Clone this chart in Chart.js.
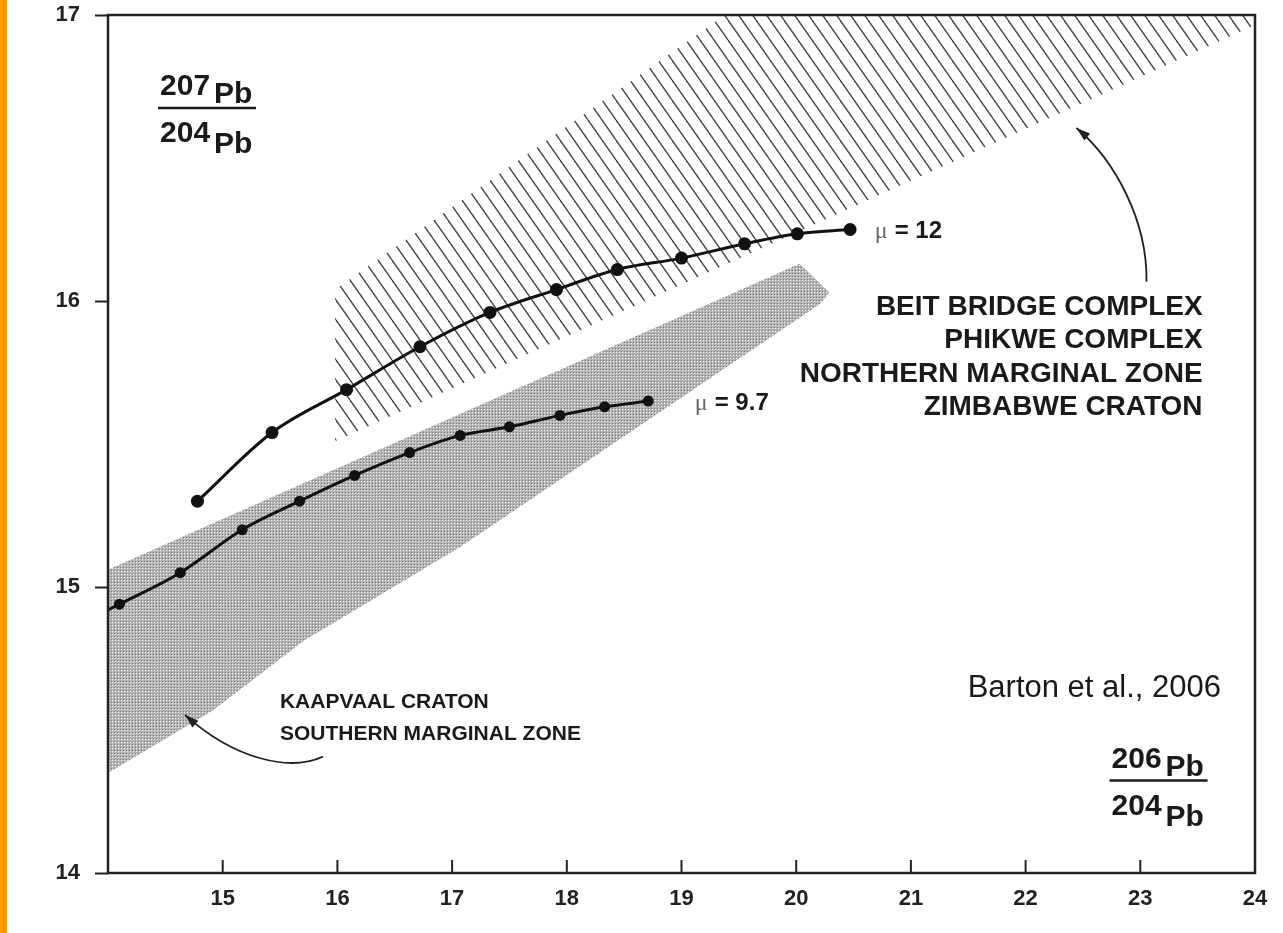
<!DOCTYPE html>
<html lang="en">
<head>
<meta charset="UTF-8" />
<title>Pb growth curves</title>
<script src="https://cdn.jsdelivr.net/npm/chart.js"></script>
<style>
  html, body { margin: 0; padding: 0; background: #fff; }
  #wrap { position: relative; width: 1283px; height: 933px; }
  /* orange side strip */
  #strip { position: absolute; left: 0; top: 0; width: 7px; height: 933px; background: #ff9900; }
  #chart { position: absolute; left: 0; top: 0; }
</style>
</head>
<body>
<div id="wrap">
  <div id="strip"></div>
  <canvas id="chart" width="1283" height="933"></canvas>
</div>
<script>
// growth curve mu = 12
const mu12X = [14.78, 15.43, 16.08, 16.72, 17.33, 17.91, 18.44, 19.00, 19.55, 20.01, 20.47];
const mu12Y = [15.30, 15.54, 15.69, 15.84, 15.96, 16.04, 16.11, 16.15, 16.20, 16.235, 16.25];
// growth curve mu = 9.7 (first value is where the line leaves the axis)
const mu97X = [14.00, 14.10, 14.63, 15.17, 15.67, 16.15, 16.63, 17.07, 17.50, 17.94, 18.33, 18.71];
const mu97Y = [14.92, 14.94, 15.05, 15.20, 15.30, 15.39, 15.47, 15.53, 15.56, 15.60, 15.63, 15.65];
// hatched field (Beit Bridge ... Zimbabwe craton)
const northTopX = [15.98, 19.38, 24.0];
const northTopY = [16.04, 17.0, 17.0];
const northBotX = [15.98, 24.0];
const northBotY = [15.51, 16.965];
// stippled field (Kaapvaal craton)
const southTopX = [14.0, 20.03, 20.29];
const southTopY = [15.06, 16.13, 16.03];
const southBotX = [14.0, 14.92, 15.70, 17.07, 20.21, 20.29];
const southBotY = [14.35, 14.57, 14.81, 15.14, 15.99, 16.03];
// ticks
const xTickValues = [15, 16, 17, 18, 19, 20, 21, 22, 23, 24];
const yTickValues = [14, 15, 16, 17];

const pts = (xs, ys) => xs.map((v, i) => ({ x: v, y: ys[i] }));

const canvas = document.getElementById("chart");
const ctx = canvas.getContext("2d");

// diagonal hatching
function hatchPattern() {
  const c = document.createElement("canvas");
  const w = 14, h = 20;
  c.width = w; c.height = h;
  const g = c.getContext("2d");
  g.strokeStyle = "#454545";
  g.lineWidth = 1.4;
  [-w, 0, w].forEach(function (off) {
    g.beginPath(); g.moveTo(off, 0); g.lineTo(off + w, h); g.stroke();
  });
  return ctx.createPattern(c, "repeat");
}
// fine halftone stipple
function dotPattern() {
  const c = document.createElement("canvas");
  c.width = 3; c.height = 3;
  const g = c.getContext("2d");
  g.fillStyle = "#b4b4b4"; g.fillRect(0, 0, 3, 3);
  g.fillStyle = "#f4f4f4"; g.fillRect(1, 1, 1, 1);
  g.fillStyle = "#7a7a7a"; g.fillRect(0, 0, 1, 1);
  return ctx.createPattern(c, "repeat");
}

const SANS = "'Liberation Sans', Arial, sans-serif";

// text, arrows, frame
const decor = {
  id: "decor",
  afterDraw(chart) {
    const c = chart.ctx, a = chart.chartArea;
    const sx = chart.scales.x, sy = chart.scales.y;
    const P = (vx, vy) => [sx.getPixelForValue(vx), sy.getPixelForValue(vy)];
    c.save();

    // frame
    c.strokeStyle = "#222";
    c.lineWidth = 2.5;
    c.strokeRect(a.left, a.top, a.right - a.left, a.bottom - a.top);

    // inner x tick marks
    c.lineWidth = 2;
    xTickValues.slice(0, -1).forEach(function (v) {
      const p = sx.getPixelForValue(v);
      c.beginPath(); c.moveTo(p, a.bottom); c.lineTo(p, a.bottom - 13); c.stroke();
    });

    function text(str, vx, vy, font, align) {
      const p = P(vx, vy);
      c.font = font;
      c.textAlign = align || "left";
      c.textBaseline = "alphabetic";
      c.fillStyle = "#1a1a1a";
      c.fillText(str, p[0], p[1]);
    }

    function mu(value, vx, vy) {
      const p = P(vx, vy);
      c.textAlign = "left";
      c.textBaseline = "alphabetic";
      c.font = "24px 'Liberation Serif', serif";
      c.fillStyle = "#666";
      c.fillText("\u03bc", p[0], p[1]);
      c.font = "bold 24px " + SANS;
      c.fillStyle = "#1a1a1a";
      c.fillText("= " + value, p[0] + 20, p[1]);
    }

    function frac(num, den, vx, vy) {
      const p = P(vx, vy);
      c.font = "bold 30px " + SANS;
      c.textAlign = "left";
      c.textBaseline = "alphabetic";
      c.fillStyle = "#1a1a1a";
      const dw = c.measureText(num).width;
      c.fillText(num, p[0] + 2, p[1] - 13);
      c.fillText("Pb", p[0] + 6 + dw, p[1] - 5);
      c.fillText(den, p[0] + 2, p[1] + 34);
      c.fillText("Pb", p[0] + 6 + dw, p[1] + 45);
      c.lineWidth = 2.5;
      c.strokeStyle = "#1a1a1a";
      c.beginPath(); c.moveTo(p[0], p[1]); c.lineTo(p[0] + 98, p[1]); c.stroke();
    }

    function arrow(list) {
      const q = list.map(function (v) { return P(v[0], v[1]); });
      c.strokeStyle = "#222";
      c.fillStyle = "#222";
      c.lineWidth = 1.8;
      c.beginPath();
      c.moveTo(q[0][0], q[0][1]);
      c.bezierCurveTo(q[1][0], q[1][1], q[2][0], q[2][1], q[3][0], q[3][1]);
      c.stroke();
      const ang = Math.atan2(q[3][1] - q[2][1], q[3][0] - q[2][0]);
      const L = 14, W = 4.5;
      c.beginPath();
      c.moveTo(q[3][0], q[3][1]);
      c.lineTo(q[3][0] - L * Math.cos(ang) + W * Math.sin(ang), q[3][1] - L * Math.sin(ang) - W * Math.cos(ang));
      c.lineTo(q[3][0] - L * Math.cos(ang) - W * Math.sin(ang), q[3][1] - L * Math.sin(ang) + W * Math.cos(ang));
      c.closePath();
      c.fill();
    }

    frac("207", "204", 14.436, 16.675);
    frac("206", "204", 22.732, 14.323);

    mu("12", 20.684, 16.221);
    mu("9.7", 19.115, 15.619);

    const bold28 = "bold 28px " + SANS;
    text("BEIT BRIDGE COMPLEX", 23.543, 15.951, bold28, "right");
    text("PHIKWE COMPLEX", 23.543, 15.836, bold28, "right");
    text("NORTHERN MARGINAL ZONE", 23.543, 15.717, bold28, "right");
    text("ZIMBABWE CRATON", 23.543, 15.602, bold28, "right");

    const bold21 = "bold 21px " + SANS;
    text("KAAPVAAL CRATON", 15.499, 14.578, bold21, "left");
    text("SOUTHERN MARGINAL ZONE", 15.499, 14.466, bold21, "left");

    text("Barton et al., 2006", 21.495, 14.617, "31px " + SANS, "left");

    arrow([[23.054, 16.067], [23.063, 16.283], [22.775, 16.493], [22.444, 16.605]]);
    arrow([[15.874, 14.407], [15.586, 14.354], [15.107, 14.396], [14.671, 14.553]]);

    c.restore();
  }
};

const hatch = hatchPattern();
const dots = dotPattern();
const clear = "rgba(0,0,0,0)";

new Chart(ctx, {
  type: "scatter",
  data: {
    datasets: [
      {
        label: "mu = 12",
        data: pts(mu12X, mu12Y),
        showLine: true,
        borderColor: "#111",
        borderWidth: 3,
        pointRadius: 6.5,
        pointBackgroundColor: "#111",
        pointBorderWidth: 0,
        cubicInterpolationMode: "monotone",
        tension: 0.4,
        order: 0,
      },
      {
        label: "mu = 9.7",
        data: pts(mu97X, mu97Y),
        showLine: true,
        borderColor: "#111",
        borderWidth: 3,
        pointRadius: mu97X.map(function (v, i) { return i === 0 ? 0 : 5.5; }),
        pointBackgroundColor: "#111",
        pointBorderWidth: 0,
        cubicInterpolationMode: "monotone",
        tension: 0.4,
        order: 0,
      },
      {
        label: "north top",
        data: pts(northTopX, northTopY),
        showLine: true,
        borderColor: clear,
        pointRadius: 0,
        backgroundColor: hatch,
        fill: "+1",
        order: 1,
      },
      {
        label: "north bottom",
        data: pts(northBotX, northBotY),
        showLine: true,
        borderColor: clear,
        pointRadius: 0,
        fill: false,
        order: 1,
      },
      {
        label: "south top",
        data: pts(southTopX, southTopY),
        showLine: true,
        borderColor: clear,
        pointRadius: 0,
        backgroundColor: dots,
        fill: "+1",
        order: 1,
      },
      {
        label: "south bottom",
        data: pts(southBotX, southBotY),
        showLine: true,
        borderColor: clear,
        pointRadius: 0,
        fill: false,
        order: 1,
      },
    ],
  },
  options: {
    responsive: false,
    animation: false,
    devicePixelRatio: 1,
    layout: { padding: { left: 0, right: 28, top: 15, bottom: 0 } },
    plugins: { legend: { display: false }, tooltip: { enabled: false } },
    scales: {
      x: {
        type: "linear",
        min: 14,
        max: 24,
        afterFit: function (s) { s.height = 60; s.paddingLeft = 0; s.paddingRight = 0; },
        afterBuildTicks: function (s) { s.ticks = xTickValues.map(function (v) { return { value: v }; }); },
        grid: { display: false, drawTicks: false },
        border: { display: false },
        ticks: {
          padding: 13,
          color: "#222",
          font: { family: SANS, size: 22, weight: "bold" },
          maxRotation: 0,
          autoSkip: false,
        },
      },
      y: {
        type: "linear",
        min: 14,
        max: 17,
        afterFit: function (s) { s.width = 108; s.paddingTop = 0; s.paddingBottom = 0; },
        afterBuildTicks: function (s) { s.ticks = yTickValues.map(function (v) { return { value: v }; }); },
        grid: { drawOnChartArea: false, drawTicks: true, tickLength: 13, tickWidth: 2, tickColor: "#222" },
        border: { display: false },
        ticks: {
          padding: 15,
          color: "#222",
          font: { family: SANS, size: 22, weight: "bold" },
          autoSkip: false,
        },
      },
    },
  },
  plugins: [decor],
});
</script>
</body>
</html>
